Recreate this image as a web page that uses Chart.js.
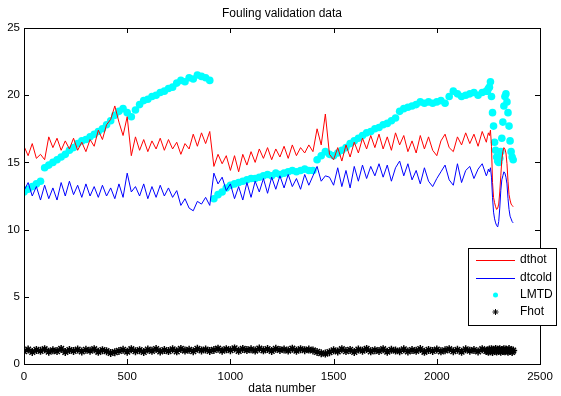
<!DOCTYPE html>
<html>
<head>
<meta charset="utf-8">
<script src="https://cdn.jsdelivr.net/npm/chart.js@4/dist/chart.umd.min.js"></script>
<style>
html, body { margin: 0; padding: 0; background: #fff; }
</style>
</head>
<body>
<canvas id="chart" width="561" height="396"></canvas>
<script>
const FONT = "'Liberation Sans', Arial, sans-serif";

// x positions (data number)
const dataNumber = [
    0, 20, 40, 60, 80, 100, 120, 140, 160, 180, 200, 220, 240, 260, 280, 300, 320, 340, 360, 380, 400,
    420, 440, 460, 480, 500, 520, 540, 560, 580, 600, 620, 640, 660, 680, 700, 720, 740, 760, 780, 800, 820, 840, 860, 880, 900,
    920, 940, 960, 980, 1000, 1020, 1040, 1060, 1080, 1100, 1120, 1140, 1160, 1180, 1200, 1220, 1240, 1260, 1280, 1300,
    1320, 1340, 1360, 1380, 1400, 1420, 1440, 1460, 1480,
    1500, 1520, 1540, 1560, 1580, 1600, 1620, 1640, 1660, 1680, 1700, 1720, 1740, 1760, 1780, 1800, 1820, 1840, 1860, 1880,
    1900, 1920, 1940, 1960, 1980, 2000, 2020, 2040, 2060, 2080, 2100, 2120, 2140, 2160, 2180, 2200, 2220, 2240,
    2245, 2250, 2255, 2260, 2265, 2270, 2275, 2280, 2285, 2290, 2295, 2300, 2305, 2310, 2315, 2320, 2325, 2330, 2335, 2340,
    2345, 2350, 2355, 2360, 2365, 2370
];

const dthot = [
    16.2, 15.5, 16.4, 15.3, 15.6, 15.2, 16.9, 16.1, 16.8, 15.9, 16.6, 16.0, 16.8, 15.9, 16.5, 15.8, 16.7, 16.2, 17.4, 16.7, 17.8,
    18.2, 19.2, 18.0, 17.0, 18.4, 15.5, 16.9, 15.9, 16.7, 15.8, 16.6, 16.0, 16.8, 15.9, 16.7, 16.0, 16.5, 15.6, 16.4, 16.0, 17.1, 16.2, 17.2, 16.4, 17.3,
    14.7, 15.6, 14.9, 15.5, 14.4, 15.5, 14.3, 15.6, 14.8, 15.8, 15.0, 16.0, 15.3, 16.1, 15.2, 16.0, 15.4, 16.2, 15.3, 16.3,
    15.5, 16.1, 15.7, 16.3, 15.8, 17.5, 16.3, 18.6, 15.6,
    15.2, 16.1, 15.1, 16.3, 15.4, 16.5, 15.7, 16.8, 16.0, 17.0, 16.1, 17.1, 16.0, 16.9, 15.9, 17.2, 16.3, 17.0, 15.8, 16.6,
    15.7, 17.0, 16.0, 16.9, 15.9, 15.5, 16.6, 17.1, 16.1, 15.8, 16.9, 16.3, 17.2, 16.4, 17.1, 16.2, 17.3, 16.5,
    16.9, 17.2, 17.0, 17.4, 16.2, 13.5, 12.4, 12.0, 11.7, 11.5, 11.6, 11.9, 12.8, 14.0, 15.2, 15.8, 16.1, 16.0, 15.7, 14.9,
    13.6, 12.6, 12.2, 11.9, 11.8, 11.7
];

const dtcold = [
    12.9, 13.5, 12.5, 13.2, 12.2, 13.3, 12.3, 13.1, 12.2, 13.5, 12.5, 13.6, 12.6, 13.3, 12.4, 13.4, 12.5, 13.2, 12.4, 13.3, 12.5,
    13.1, 12.3, 13.4, 12.4, 14.2, 12.8, 13.2, 12.5, 13.4, 12.3, 13.2, 12.4, 13.3, 12.5, 13.1, 12.4, 12.9, 11.8, 12.3, 11.6, 11.4, 12.1, 11.9, 12.4, 11.8,
    14.2, 13.4, 13.9, 12.9, 13.4, 12.3, 13.2, 12.2, 13.5, 12.4, 13.6, 12.8, 13.8, 12.7, 13.9, 13.0, 14.0, 13.1, 14.1, 13.2,
    13.8, 13.0, 14.1, 13.3, 14.0, 14.7, 13.6, 14.0, 13.9,
    13.3, 14.6, 13.2, 14.4, 13.1, 14.7, 13.6, 14.8, 13.8, 14.7, 14.0, 14.9, 13.9, 14.8, 13.6, 14.6, 15.1, 14.0, 14.9, 13.7,
    14.4, 13.4, 14.6, 13.6, 13.2, 13.8, 14.3, 14.8, 13.7, 13.3, 14.9, 13.5, 14.4, 14.7, 13.8, 14.5, 14.9, 14.0,
    14.2, 14.5, 14.3, 14.6, 13.9, 12.4, 11.3, 10.8, 10.5, 10.3, 10.2, 10.6, 11.6, 12.9, 13.7, 14.0, 14.3, 14.2, 13.9, 13.4,
    12.3, 11.5, 11.0, 10.8, 10.6, 10.5
];

const lmtd = [
    12.8, 13.0, 13.2, 13.4, 13.6, 14.6, 14.8, 15.0, 15.2, 15.4, 15.6, 15.9, 16.1, 16.4, 16.6, 16.7, 16.9, 17.1, 17.3, 17.5, 17.8,
    18.1, 18.5, 18.8, 19.0, 18.7, 18.4, 18.9, 19.3, 19.6, 19.7, 19.9, 20.0, 20.2, 20.3, 20.5, 20.6, 20.9, 21.1, 21.0, 21.3, 21.2, 21.5, 21.4, 21.3, 21.1,
    12.3, 12.6, 12.8, 13.1, 13.3, 13.4, 13.5, 13.6, 13.7, 13.8, 13.8, 13.9, 14.0, 14.1, 14.0, 14.2, 14.1, 14.2, 14.3, 14.4,
    14.3, 14.4, 14.5, 14.4, 14.4, 15.2, 15.5, 15.8, 15.6,
    15.5, 15.7, 15.9, 16.1, 16.4, 16.6, 16.8, 17.0, 17.2, 17.3, 17.5, 17.6, 17.8, 17.9, 18.1, 18.3, 18.8, 19.0, 19.1, 19.2,
    19.3, 19.5, 19.4, 19.5, 19.4, 19.5, 19.6, 19.4, 19.9, 20.3, 20.1, 19.9, 20.0, 20.1, 20.2, 20.0, 20.2, 20.3,
    20.3, 20.5, 20.6, 21.0, 19.9, 18.7, 17.7, 16.5, 15.9, 15.4, 15.1, 15.0, 15.3, 15.8, 16.8, 18.0, 19.2, 19.9, 20.1, 19.5,
    18.7, 17.7, 16.6, 15.8, 15.4, 15.2
];

const fhot = [
    0.95, 1.08, 0.9, 1.05, 0.98, 1.1, 0.92, 1.02, 0.96, 1.12, 0.9, 1.04, 0.97, 1.08, 0.93, 1.06, 0.99, 1.1, 0.91, 1.03, 0.95,
    0.82, 0.88,
    0.97, 1.06, 0.92, 1.1, 0.95, 1.03, 0.9, 1.07, 0.98, 1.11, 0.93, 1.04, 0.96, 1.09, 0.94, 1.12, 1.0, 1.06, 0.95, 1.13, 1.01, 1.08, 0.97,
    1.05, 1.14, 0.99, 1.1, 1.03, 1.16, 0.98, 1.12, 1.04, 1.09, 1.0, 1.15, 1.02, 1.11, 0.97, 1.13, 1.05, 1.08, 1.0, 1.14,
    0.99, 1.1, 1.03, 1.07, 1.01,
    0.9, 0.8, 0.78, 0.88,
    1.02, 0.93, 1.1, 0.96, 1.05, 0.9, 1.08, 0.99, 1.12, 0.94, 1.03, 0.97, 1.1, 0.92, 1.06, 1.0, 0.95, 1.09, 0.93, 1.04,
    0.98, 1.11, 0.91, 1.05, 0.97, 1.08, 0.94, 1.02, 1.1, 0.95, 1.06, 0.92, 1.09, 0.99, 1.04, 0.93, 1.1, 0.97,
    1.0, 0.92, 1.08, 0.95, 1.1, 0.9, 1.05, 0.97, 1.12, 0.93, 1.06, 0.98, 1.1, 0.91, 1.04, 0.96, 1.09, 0.94, 1.07, 1.0,
    0.92, 1.11, 0.96, 1.03, 0.9, 1.0
];

const xTicks = [0, 500, 1000, 1500, 2000, 2500];
const yTicks = [0, 5, 10, 15, 20, 25];
const legendNames = ['dthot', 'dtcold', 'LMTD', 'Fhot'];
const title = 'Fouling validation data';

const toPoints = ys => dataNumber.map((n, i) => ({ x: n, y: ys[i] }));

// matlab style box, inward ticks, title and legend
const matlabBox = {
    id: 'matlabBox',
    afterDraw(chart) {
        const { ctx, chartArea: a, scales } = chart;
        ctx.save();
        ctx.strokeStyle = '#000';
        ctx.lineWidth = 1;
        ctx.strokeRect(Math.round(a.left) + 0.5, Math.round(a.top) + 0.5,
            Math.round(a.right - a.left), Math.round(a.bottom - a.top));
        ctx.beginPath();
        xTicks.forEach(v => {
            const x = Math.round(scales.x.getPixelForValue(v)) + 0.5;
            ctx.moveTo(x, a.bottom); ctx.lineTo(x, a.bottom - 5);
            ctx.moveTo(x, a.top); ctx.lineTo(x, a.top + 5);
        });
        yTicks.forEach(v => {
            const y = Math.round(scales.y.getPixelForValue(v)) + 0.5;
            ctx.moveTo(a.left, y); ctx.lineTo(a.left + 5, y);
            ctx.moveTo(a.right, y); ctx.lineTo(a.right - 5, y);
        });
        ctx.stroke();

        // title
        ctx.fillStyle = '#000';
        ctx.font = '12px ' + FONT;
        ctx.textAlign = 'center';
        ctx.textBaseline = 'alphabetic';
        ctx.fillText(title, (a.left + a.right) / 2, 17);

        // legend
        const lx = 468, ly = 248, lw = 88, lh = 77;
        ctx.fillStyle = '#fff';
        ctx.fillRect(lx, ly, lw, lh);
        ctx.strokeRect(lx + 0.5, ly + 0.5, lw, lh);
        const rows = [260, 278, 295, 312];
        chart.data.datasets.forEach((ds, i) => {
            const y = rows[i];
            if (ds.showLine) {
                ctx.strokeStyle = ds.borderColor;
                ctx.beginPath();
                ctx.moveTo(476, y + 0.5); ctx.lineTo(515, y + 0.5);
                ctx.stroke();
            } else if (ds.pointStyle === 'star') {
                Chart.helpers.drawPoint(ctx, { pointStyle: 'star', radius: 3, borderWidth: 1 }, 495.5, y);
            } else {
                ctx.fillStyle = ds.pointBackgroundColor;
                ctx.beginPath();
                ctx.arc(495.5, y, 2.5, 0, Math.PI * 2);
                ctx.fill();
            }
            ctx.fillStyle = '#000';
            ctx.strokeStyle = '#000';
            ctx.textAlign = 'left';
            ctx.textBaseline = 'middle';
            ctx.fillText(ds.label, 520, y);
        });
        ctx.restore();
    }
};

const data = {
    datasets: [
        {
            label: legendNames[0],
            data: toPoints(dthot),
            showLine: true,
            borderColor: '#ff0000',
            borderWidth: 1,
            pointRadius: 0,
            order: 3,
        },
        {
            label: legendNames[1],
            data: toPoints(dtcold),
            showLine: true,
            borderColor: '#0000ff',
            borderWidth: 1,
            pointRadius: 0,
            order: 2,
        },
        {
            label: legendNames[2],
            data: toPoints(lmtd),
            showLine: false,
            pointStyle: 'circle',
            pointRadius: 3.8,
            pointBorderWidth: 0,
            pointBackgroundColor: '#00ffff',
            order: 4,
        },
        {
            label: legendNames[3],
            data: toPoints(fhot),
            showLine: false,
            pointStyle: 'star',
            pointRadius: 4,
            pointBorderWidth: 1.5,
            pointBorderColor: '#000',
            order: 1,
        }
    ]
};

const options = {
    responsive: false,
    animation: false,
    devicePixelRatio: 1,
    layout: { padding: { top: 28, right: 21, left: 0, bottom: 0 } },
    plugins: { legend: { display: false }, tooltip: { enabled: false } },
    scales: {
        x: {
            type: 'linear',
            min: 0,
            max: 2500,
            afterFit: s => { s.height = 32; },
            afterBuildTicks: s => { s.ticks = xTicks.map(v => ({ value: v })); },
            ticks: { color: '#000', font: { family: FONT, size: 11.5 }, padding: 6, autoSkip: false, maxRotation: 0, callback: v => String(v) },
            grid: { drawOnChartArea: false, drawTicks: false },
            border: { display: false },
            title: { display: true, text: 'data number', color: '#000', font: { family: FONT, size: 12 }, padding: { top: 0, bottom: 0 } }
        },
        y: {
            min: 0,
            max: 25,
            afterFit: s => { s.width = 24; },
            afterBuildTicks: s => { s.ticks = yTicks.map(v => ({ value: v })); },
            ticks: { color: '#000', font: { family: FONT, size: 11.5 }, padding: 4, callback: v => String(v) },
            grid: { drawOnChartArea: false, drawTicks: false },
            border: { display: false }
        }
    }
};

new Chart(document.getElementById('chart'), { type: 'scatter', data: data, options: options, plugins: [matlabBox] });
</script>
</body>
</html>
